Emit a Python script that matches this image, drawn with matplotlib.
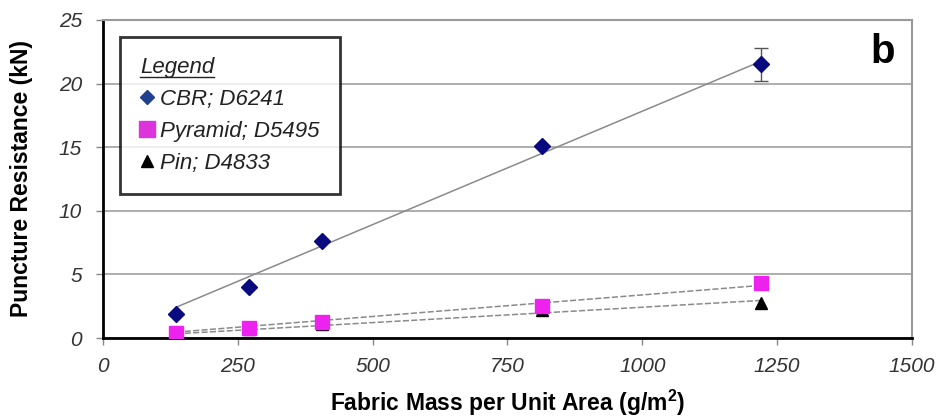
import numpy as np
import matplotlib
matplotlib.use("Agg")
import matplotlib.pyplot as plt
from matplotlib.lines import Line2D

plt.rcParams['font.family'] = ['Liberation Sans', 'DejaVu Sans']
plt.rcParams['mathtext.fontset'] = 'custom'
plt.rcParams['mathtext.rm'] = 'Liberation Sans'
plt.rcParams['mathtext.bf'] = 'Liberation Sans:bold'

# fabric mass (g/m2)
mass = [136, 271, 407, 814, 1221]

# puncture resistance (kN)
cbr = [1.9, 4.0, 7.6, 15.1, 21.5]
cbr_err = [0, 0, 0, 0, 1.3]
pyramid = [0.4, 0.8, 1.25, 2.55, 4.35]
pin = [0.35, 0.7, 1.1, 2.2, 2.75]

labels = ["CBR; D6241", "Pyramid; D5495", "Pin; D4833"]
x_ticks = [0, 250, 500, 750, 1000, 1250, 1500]
y_ticks = [0, 5, 10, 15, 20, 25]


def fit_origin(x, y):
    # linear trendline forced through zero
    x = np.asarray(x, float)
    y = np.asarray(y, float)
    return (x * y).sum() / (x * x).sum()


fig = plt.figure(figsize=(9.46, 4.16), dpi=100)
ax = fig.add_axes([0.1089, 0.1875, 0.855, 0.7645])

xs = np.array([mass[0], mass[-1]], float)
ax.plot(xs, fit_origin(mass, cbr) * xs, color='#8a8a8a', lw=1.1, zorder=2)
ax.plot(xs, fit_origin(mass, pyramid) * xs, color='#8a8a8a', lw=1.1, ls=(0, (4, 1.5)), zorder=2)
ax.plot(xs, fit_origin(mass, pin) * xs, color='#8a8a8a', lw=1.1, ls=(0, (4, 1.5)), zorder=2)

ax.errorbar(mass, cbr, yerr=cbr_err, fmt='none', ecolor='#555555', elinewidth=1,
            capsize=5, capthick=1, zorder=3)
ax.plot(mass, pin, ls='none', marker='^', color='black', ms=9, zorder=4)
ax.plot(mass, pyramid, ls='none', marker='s', color='#ee22ee', mec='#ee22ee', ms=10, zorder=5)
ax.plot(mass, cbr, ls='none', marker='D', color='#0a0a80', ms=8, zorder=6)

ax.set_xlim(0, 1500)
ax.set_ylim(0, 25)
ax.set_xticks(x_ticks)
ax.set_yticks(y_ticks)
ax.yaxis.grid(True, color='#a0a0a0', lw=1.2)
ax.set_axisbelow(True)

for lab in ax.get_xticklabels() + ax.get_yticklabels():
    lab.set_fontstyle('italic')
    lab.set_fontsize(15)
    lab.set_color('#333333')
ax.tick_params(axis='both', direction='out', length=5, color='#888888', width=1)
ax.tick_params(axis='x', pad=9)
ax.tick_params(axis='y', pad=10)

ax.spines['left'].set_color('black')
ax.spines['left'].set_linewidth(2)
ax.spines['bottom'].set_color('black')
ax.spines['bottom'].set_linewidth(2)
ax.spines['top'].set_color('#999999')
ax.spines['top'].set_linewidth(1.5)
ax.spines['right'].set_color('#999999')
ax.spines['right'].set_linewidth(1.5)

ax.set_xlabel(r'Fabric Mass per Unit Area (g/m$^\mathbf{2}$)', fontsize=16.5,
              fontweight='bold', labelpad=8)
ax.set_ylabel('Puncture Resistance (kN)', fontsize=16.5, fontweight='bold', labelpad=19)

ax.text(0.979, 0.90, 'b', transform=ax.transAxes, fontsize=29, fontweight='bold',
        ha='right', va='center')

handles = [
    Line2D([], [], ls='none', marker='D', color='#1f3f8f', ms=7),
    Line2D([], [], ls='none', marker='s', color='#dd33dd', ms=12),
    Line2D([], [], ls='none', marker='^', color='black', ms=9),
]
leg = ax.legend(handles, labels, title='Legend', loc='upper left',
                bbox_to_anchor=(0.021, 0.947), borderaxespad=0, frameon=True,
                fancybox=False, edgecolor='black', prop={'style': 'italic', 'size': 16},
                handlelength=0.6, handletextpad=0.3, labelspacing=0.5,
                borderpad=0.9, alignment='left')
leg.get_frame().set_linewidth(2)
leg.get_title().set_fontstyle('italic')
leg.get_title().set_fontsize(16)
leg.get_title().set_color('#222222')
for t in leg.get_texts():
    t.set_color('#222222')

# underline the legend title
fig.canvas.draw()
bb = leg.get_title().get_window_extent().transformed(fig.transFigure.inverted())
fig.add_artist(Line2D([bb.x0, bb.x1], [bb.y0 + 0.002, bb.y0 + 0.002],
                      transform=fig.transFigure, color='#222222', lw=1))

fig.savefig('out.png', dpi=100)
